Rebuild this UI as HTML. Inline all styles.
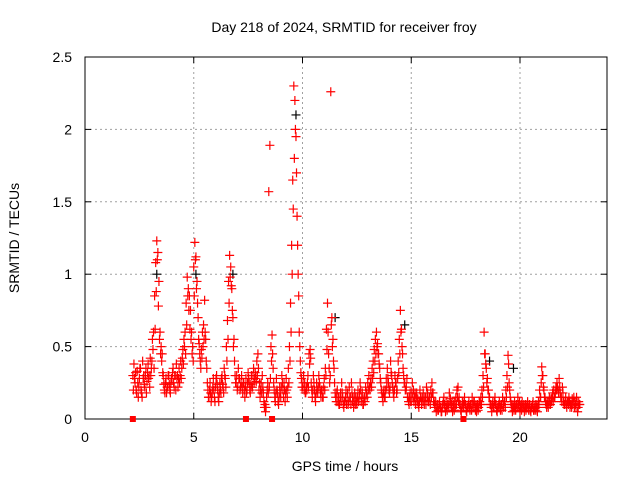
<!DOCTYPE html>
<html><head><meta charset="utf-8"><style>
body{margin:0;background:#fff;font-family:"Liberation Sans",sans-serif}
svg text{font-family:"Liberation Sans",sans-serif;font-size:14px;fill:#000}
</style></head><body>
<svg id="chart" width="640" height="480" viewBox="0 0 640 480">
<rect x="0" y="0" width="640" height="480" fill="#fff"/>
<text x="344" y="32" text-anchor="middle">Day 218 of 2024, SRMTID for receiver froy</text>
<g id="grid"></g>
<g id="axes"></g>
<g id="marks"></g>
<text x="345" y="471" text-anchor="middle">GPS time / hours</text>
<text transform="translate(19,238) rotate(-90)" text-anchor="middle">SRMTID / TECUs</text>
</svg>
<script>
const xTicks=[0,5,10,15,20];
const yTicks=[0,0.5,1,1.5,2,2.5];
const yTickLabels=["0","0.5","1","1.5","2","2.5"];
const redStart=2.2;
const redStep=0.05;
const redValues=[
.30,.38,.25,.20,.33,.15,.28,.35,.18,.40,.30,.22,.35,.26,.38,.30,.42,.35,.55,.60,
.85,1.08,1.23,1.15,.95,.60,.50,.45,.30,.20,.25,.18,.22,.30,.20,.25,.28,.35,.22,.30,
.38,.30,.28,.25,.40,.35,.48,.55,.60,.80,.98,.90,.85,.75,.60,.50,1.05,1.22,1.12,.95,
.70,.52,.40,.48,.60,.65,.82,.55,.35,.20,.15,.25,.12,.18,.28,.15,.22,.30,.20,.12,
.25,.18,.30,.22,.35,.28,.50,.68,.95,1.13,1.05,.90,.70,.55,.30,.25,.20,.35,.28,.22,
.30,.18,.25,.15,.28,.20,.32,.25,.18,.30,.22,.35,.28,.30,.40,.45,.20,.15,.25,.30,
.18,.08,.05,.15,.25,1.57,1.89,.50,.58,.35,.20,.12,.28,.18,.10,.22,.15,.30,.20,.25,
.12,.28,.15,.35,.50,.80,1.20,1.65,2.30,2.20,1.95,1.40,1.00,.60,.40,.28,.22,.30,.25,.18,
.20,.30,.45,.48,.25,.15,.30,.20,.12,.25,.18,.30,.22,.15,.20,.15,.28,.35,.62,.80,
.45,.25,2.26,.70,.55,.35,.18,.12,.20,.15,.10,.18,.25,.15,.08,.12,.20,.15,.10,.22,
.15,.25,.12,.08,.18,.15,.10,.20,.14,.25,.12,.18,.10,.15,.22,.18,.25,.30,.20,.28,
.35,.40,.48,.55,.60,.52,.45,.35,.25,.18,.12,.20,.15,.28,.35,.25,.18,.40,.30,.22,
.15,.30,.25,.20,.40,.55,.75,.62,.45,.30,.25,.20,.28,.15,.10,.18,.12,.25,.20,.15,
.10,.18,.14,.08,.20,.15,.12,.18,.10,.15,.22,.18,.12,.15,.20,.25,.18,.12,.08,.05,
.10,.06,.12,.08,.05,.10,.15,.08,.12,.06,.10,.18,.14,.08,.05,.10,.12,.15,.20,.22,
.15,.10,.05,.12,.08,.15,.10,.05,.08,.12,.06,.10,.15,.08,.12,.06,.05,.10,.08,.12,
.15,.20,.30,.60,.45,.35,.28,.20,.15,.10,.05,.12,.08,.15,.10,.05,.08,.12,.06,.10,
.15,.08,.12,.20,.30,.44,.25,.15,.10,.05,.08,.12,.06,.10,.15,.08,.05,.10,.12,.08,
.05,.10,.08,.12,.06,.10,.05,.08,.12,.06,.10,.08,.05,.12,.20,.15,.36,.30,.20,.15,
.10,.12,.08,.15,.10,.12,.18,.20,.15,.22,.25,.20,.28,.18,.15,.22,.12,.10,.15,.08,
.12,.15,.08,.10,.14,.12,.08,.10,.15,.05,.12,.10];
const red2Start=2.225;
const red2Values=[
.20,.28,.32,.18,.25,.22,.35,.20,.15,.28,.24,.30,.18,.32,.28,.22,.30,.40,.48,.35,
.62,.88,1.10,.78,.55,.45,.40,.32,.24,.18,.28,.22,.30,.24,.18,.28,.32,.25,.30,.20,
.28,.22,.35,.30,.28,.42,.38,.50,.45,.65,.85,.75,.62,.55,.45,.40,.85,1.10,.90,.80,
.55,.45,.35,.42,.50,.55,.60,.40,.25,.15,.20,.18,.15,.22,.20,.12,.28,.24,.15,.18,
.20,.28,.24,.18,.30,.22,.40,.55,.80,.98,.92,.75,.50,.40,.25,.30,.22,.28,.20,.25,
.22,.25,.20,.22,.18,.25,.28,.20,.24,.22,.30,.25,.32,.26,.30,.35,.25,.20,.18,.22,
.12,.10,.08,.20,.18,.22,.28,.40,.45,.25,.15,.18,.20,.12,.15,.18,.22,.25,.15,.20,
.18,.20,.22,.25,.40,.60,1.00,1.45,1.80,2.00,1.70,1.20,.85,.50,.32,.22,.25,.20,.18,.22,
.25,.22,.38,.42,.20,.20,.25,.15,.18,.20,.22,.25,.18,.20,.15,.22,.20,.30,.48,.60,
.35,.30,.65,.50,.40,.25,.15,.18,.12,.10,.15,.12,.18,.10,.12,.15,.10,.18,.12,.15,
.10,.18,.15,.12,.10,.12,.15,.12,.18,.20,.15,.10,.14,.12,.18,.15,.20,.22,.25,.22,
.28,.32,.40,.45,.50,.45,.38,.28,.20,.15,.18,.15,.20,.22,.28,.20,.22,.32,.25,.18,
.20,.25,.18,.28,.32,.45,.60,.50,.35,.25,.20,.22,.15,.12,.15,.12,.18,.15,.12,.18,
.15,.12,.10,.12,.15,.10,.15,.12,.15,.10,.15,.12,.15,.10,.15,.18,.12,.10,.12,.08,
.06,.10,.08,.05,.08,.12,.10,.05,.08,.10,.08,.12,.10,.12,.08,.06,.08,.10,.15,.12,
.10,.06,.08,.10,.12,.10,.06,.08,.10,.08,.10,.06,.10,.12,.08,.10,.08,.06,.12,.10,
.10,.15,.22,.45,.38,.25,.20,.15,.10,.08,.10,.08,.12,.10,.06,.08,.10,.08,.10,.06,
.10,.12,.08,.15,.22,.38,.20,.12,.08,.10,.06,.08,.10,.08,.10,.12,.08,.06,.08,.10,
.08,.06,.10,.08,.10,.06,.08,.10,.06,.08,.06,.10,.08,.10,.15,.25,.30,.22,.15,.12,
.08,.10,.12,.10,.14,.15,.12,.15,.18,.20,.22,.18,.22,.15,.12,.18,.10,.12,.10,.12,
.10,.12,.10,.08,.10,.15,.12,.08,.12,.08,.10];
const blackTimes=[3.3,5.1,6.8,9.7,11.5,14.7,18.6,19.7];
const blackValues=[1.0,1.0,1.0,2.1,0.7,0.65,0.4,0.35];
const zeroTimes=[2.2,7.4,8.6,17.4];

const X0=85,X1=607,Y0=419,Y1=57;
const xs=t=>X0+t*(X1-X0)/24;
const ys=v=>Y0-v*(Y0-Y1)/2.5;
const NS="http://www.w3.org/2000/svg";
const grid=document.getElementById('grid'),axes=document.getElementById('axes'),marks=document.getElementById('marks');
function mk(tag,attrs,parent){const e=document.createElementNS(NS,tag);for(const k in attrs)e.setAttribute(k,attrs[k]);parent.appendChild(e);return e;}

xTicks.forEach(t=>{
  if(t>0){const g=mk('line',{x1:xs(t),x2:xs(t),y1:Y0,y2:Y1,stroke:'#a0a0a0','stroke-dasharray':'2,3'},grid);
  
  }
  const tk=mk('line',{x1:xs(t),x2:xs(t),y1:Y0,y2:Y0-6,stroke:'#000'},axes);
  
  
  const tk2=mk('line',{x1:xs(t),x2:xs(t),y1:Y1,y2:Y1+6,stroke:'#000'},axes);
  
  
  const lb=mk('text',{x:xs(t),y:Y0+23,'text-anchor':'middle'},axes);lb.textContent=String(t);
  
  
});
yTicks.forEach((v,i)=>{
  if(v>0&&v<2.5){const g=mk('line',{x1:X0,x2:X1,y1:ys(v),y2:ys(v),stroke:'#a0a0a0','stroke-dasharray':'2,3'},grid);
  
  }
  const tk=mk('line',{x1:X0,x2:X0+6,y1:ys(v),y2:ys(v),stroke:'#000'},axes);
  
  
  const tk2=mk('line',{x1:X1,x2:X1-6,y1:ys(v),y2:ys(v),stroke:'#000'},axes);
  
  
  const lb=mk('text',{x:X0-13,y:ys(v)+5,'text-anchor':'end'},axes);lb.textContent=yTickLabels[i];
  
  
});
const frame=mk('rect',{x:X0,y:Y1,width:X1-X0,height:Y0-Y1,fill:'none',stroke:'#000'},axes);



function plus(t,v,color,name){
  const x=xs(t),y=ys(v);
  const p=mk('path',{d:`M${x-4.5},${y}H${x+4.5}M${x},${y-4.5}V${y+4.5}`,stroke:color,'stroke-width':1.2,fill:'none'},marks);
  
  
}
blackValues.forEach((v,i)=>plus(blackTimes[i],v,'#000','black-point'));
redValues.forEach((v,i)=>plus(redStart+i*redStep,v,'#ff0000','red-point'));
red2Values.forEach((v,i)=>plus(red2Start+i*redStep,v,'#ff0000','red-point'));
zeroTimes.forEach(t=>{
  const r=mk('rect',{x:xs(t)-3,y:Y0-3,width:6,height:6,fill:'#ff0000'},marks);
  
  
});
</script>
</body></html>
